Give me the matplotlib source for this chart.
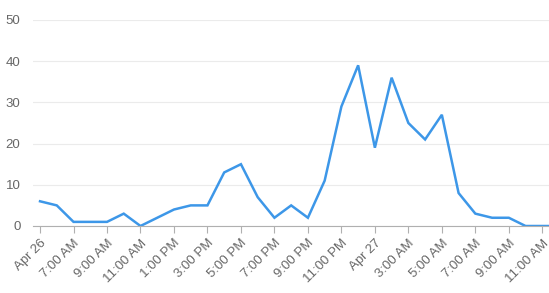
import matplotlib.pyplot as plt

plt.rcParams['font.family'] = ['Liberation Sans', 'DejaVu Sans']

# hourly counts starting Apr 26, 5:00 AM
hours = list(range(32))
counts = [6, 5, 1, 1, 1, 3, 0, 2, 4, 5, 5, 13, 15, 7, 2, 5, 2, 11, 29, 39,
          19, 36, 25, 21, 27, 8, 3, 2, 2, 0, 0, 0]

tick_hours = list(range(0, 31, 2))
tick_labels = ['Apr 26', '7:00 AM', '9:00 AM', '11:00 AM', '1:00 PM', '3:00 PM',
               '5:00 PM', '7:00 PM', '9:00 PM', '11:00 PM', 'Apr 27', '3:00 AM',
               '5:00 AM', '7:00 AM', '9:00 AM', '11:00 AM']
y_ticks = [0, 10, 20, 30, 40, 50]

fig = plt.figure(figsize=(5.49, 2.93), dpi=100)
ax = fig.add_axes([33 / 549, 67 / 293, 1 - 33 / 549, 206 / 293])

ax.plot(hours, counts, color='#3d97e8', lw=1.8, solid_joinstyle='miter')

ax.set_xlim(-0.42, 30.4)
ax.set_ylim(0, 50)
ax.set_yticks(y_ticks)
ax.set_xticks(tick_hours)
ax.set_xticklabels(tick_labels, rotation=45, ha='right', va='top',
                   rotation_mode='anchor')
ax.grid(axis='y', color='#ebebeb', lw=0.8)
ax.set_axisbelow(True)

for s in ['top', 'right', 'left']:
    ax.spines[s].set_visible(False)
ax.spines['bottom'].set_color('#b0b0b0')
ax.tick_params(axis='y', length=0, pad=9, labelsize=9.5, labelcolor='#666666')
ax.tick_params(axis='x', length=5, color='#b0b0b0', pad=3, labelsize=9.5,
               labelcolor='#666666')

fig.savefig('out.png', dpi=100)
